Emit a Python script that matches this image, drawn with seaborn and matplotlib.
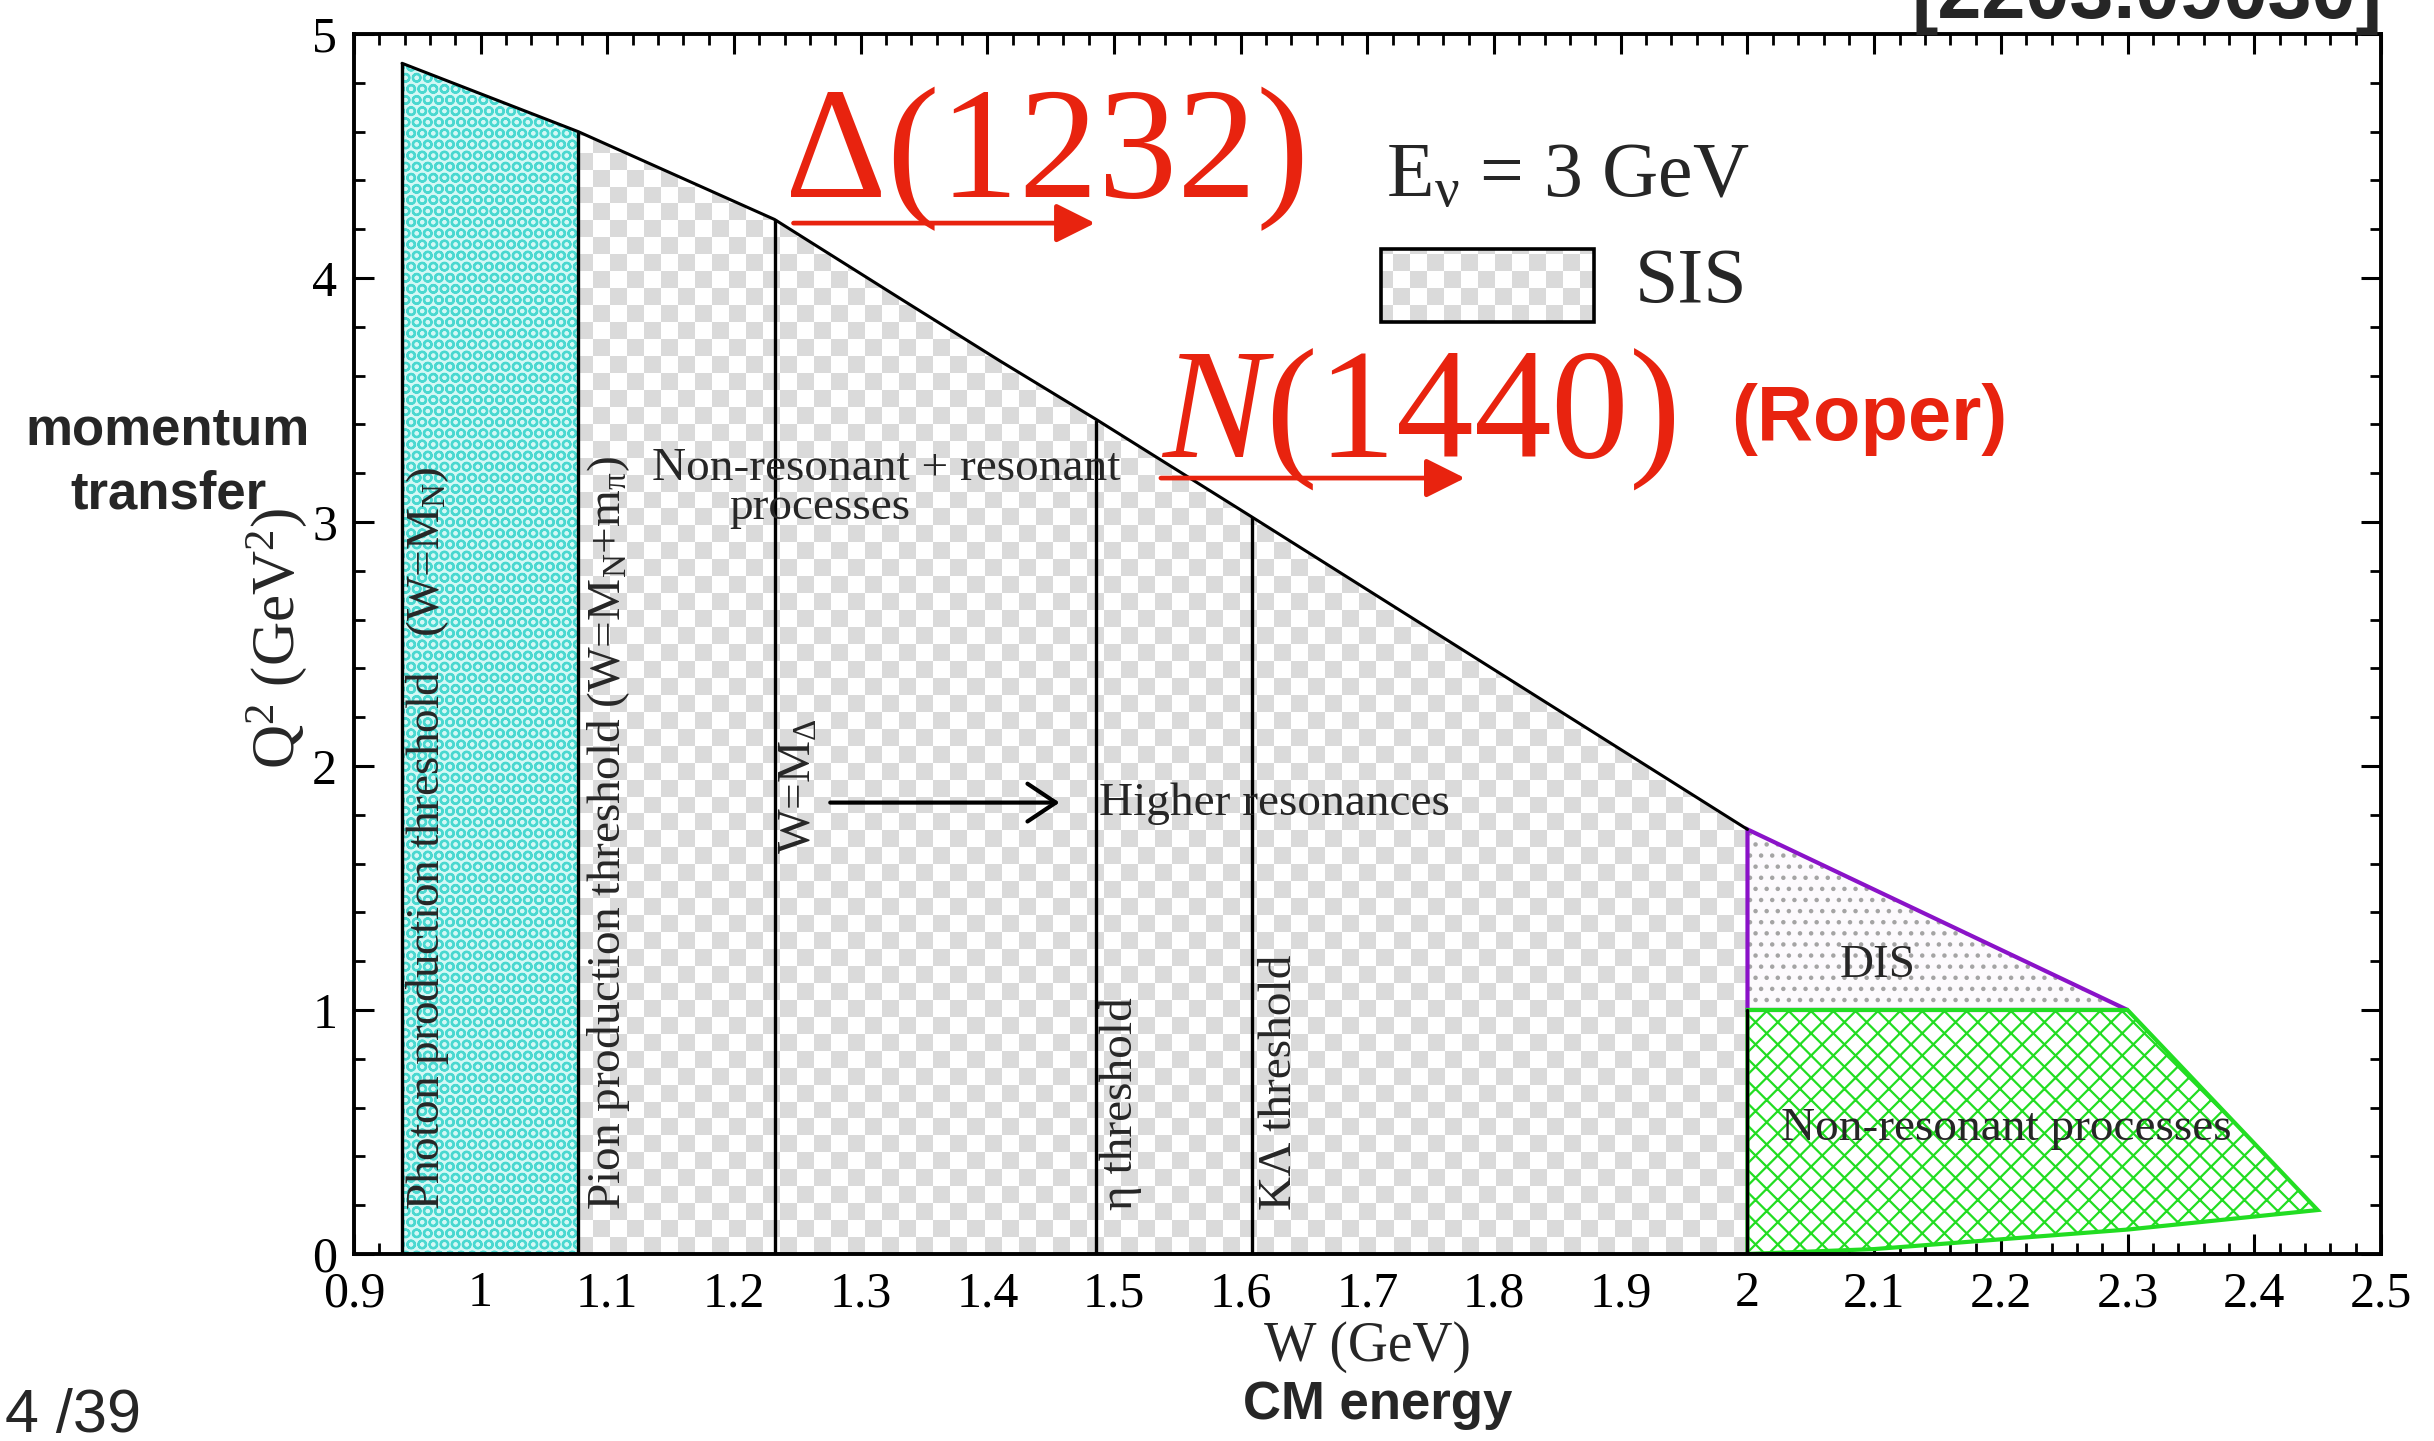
import numpy as np
import matplotlib
matplotlib.use('Agg')
import matplotlib.pyplot as plt
import seaborn as sns
from matplotlib.patches import Polygon, Rectangle
from matplotlib.colors import ListedColormap
from matplotlib.ticker import MultipleLocator, FuncFormatter

# upper kinematic limit for E_nu = 3 GeV
w_edge = [0.938, 1.077, 1.232, 1.333, 1.41, 1.486, 1.609, 2.0]
q2_edge = [4.88, 4.60, 4.24, 3.91, 3.66, 3.42, 3.02, 1.74]

# threshold lines: W position and height where they hit the limit
w_thr = [0.938, 1.077, 1.232, 1.486, 1.609]
q2_thr = [4.88, 4.60, 4.24, 3.42, 3.02]

# DIS triangle
w_dis = [2.0, 2.0, 2.3]
q2_dis = [1.0, 1.74, 1.0]

# non-resonant (green) region, outer boundary
w_nonres = [2.0, 2.0, 2.3, 2.45, 2.3, 2.2, 2.1, 2.0]
q2_nonres = [0.0, 1.0, 1.0, 0.18, 0.10, 0.06, 0.02, 0.0]

RED = '#e8230f'
PURPLE = '#8a12c8'
GREEN = '#22dd22'
CHECK_GREY = '#dadada'

sns.set_theme(style='ticks')
plt.rcParams['font.family'] = ['Liberation Serif', 'DejaVu Serif']
plt.rcParams['mathtext.fontset'] = 'custom'
plt.rcParams['mathtext.rm'] = 'Liberation Serif'
plt.rcParams['mathtext.it'] = 'Liberation Serif:italic'
plt.rcParams['mathtext.bf'] = 'Liberation Serif:bold'
plt.rcParams['mathtext.default'] = 'rm'
plt.rcParams['hatch.linewidth'] = 0.8
plt.rcParams['axes.edgecolor'] = 'black'
plt.rcParams['xtick.color'] = 'black'
plt.rcParams['ytick.color'] = 'black'

fig = plt.figure(figsize=(12.17, 7.205), dpi=200)
ax = fig.add_axes([0.1454, 0.1298, 0.8328, 0.8466])
ax.set_xlim(0.9, 2.5)
ax.set_ylim(0, 5)

# checkerboard texture for the SIS region
nx, ny = 119, 72
checker = np.indices((ny, nx)).sum(axis=0) % 2
cmap = ListedColormap(['white', CHECK_GREY])

sis_pts = [(w_thr[1], 0)] + list(zip(w_edge[1:], q2_edge[1:])) + [(w_edge[-1], 0)]
sis_poly = Polygon(sis_pts, closed=True, fc='none', ec='none')
ax.add_patch(sis_poly)
im = ax.imshow(checker, cmap=cmap, extent=(0.9, 2.5, 0, 5), aspect='auto',
               interpolation='nearest', origin='lower', zorder=1)
im.set_clip_path(sis_poly)

# photon production region (cyan)
photon_pts = [(w_thr[0], 0)] + list(zip(w_edge[:2], q2_edge[:2])) + [(w_thr[1], 0)]
ax.add_patch(Polygon(photon_pts, closed=True, fc='#d4f8f5', ec='#4ad8d0',
                     hatch='OOO', lw=0, zorder=2))

# DIS triangle
ax.add_patch(Polygon(list(zip(w_dis, q2_dis)), closed=True, fc='#fcfafd',
                     ec='#a4a4a4', hatch='...', lw=0, zorder=2))
ax.add_patch(Polygon(list(zip(w_dis, q2_dis)), closed=True, fc='none',
                     ec=PURPLE, lw=1.5, zorder=4))

# non-resonant region
nonres = list(zip(w_nonres, q2_nonres))
ax.add_patch(Polygon(nonres, closed=True, fc='white', ec=GREEN,
                     hatch='xxx', lw=0, zorder=2))
ax.add_patch(Polygon(nonres, closed=True, fc='none', ec=GREEN, lw=1.5, zorder=4))
ax.plot([w_nonres[0], w_nonres[1]], [q2_nonres[0], q2_nonres[1]], color='black',
        lw=1.2, zorder=5)

# kinematic limit and threshold lines
sns.lineplot(x=w_edge, y=q2_edge, sort=False, color='black', lw=1.1, ax=ax, zorder=5)
ax.vlines(w_thr, 0, q2_thr, color='black', lw=1.2, zorder=5)

# axis styling
ax.xaxis.set_major_locator(MultipleLocator(0.1))
ax.xaxis.set_minor_locator(MultipleLocator(0.02))
ax.yaxis.set_major_locator(MultipleLocator(1))
ax.yaxis.set_minor_locator(MultipleLocator(0.2))
ax.xaxis.set_major_formatter(FuncFormatter(lambda v, p: f'{v:g}'))
ax.yaxis.set_major_formatter(FuncFormatter(lambda v, p: f'{v:g}'))
ax.tick_params(which='both', direction='in', top=True, right=True, labelsize=18)
ax.tick_params(which='major', length=7.2, width=1.1, pad=6)
ax.tick_params(which='minor', length=4, width=1.0)
for sp in ax.spines.values():
    sp.set_visible(True)
    sp.set_linewidth(1.4)
    sp.set_zorder(6)

ax.set_xlabel('W (GeV)', fontsize=20)
ax.xaxis.set_label_coords(0.5, -0.076)
ax.xaxis.label.set_va('center')
ax.set_ylabel(r'Q$^2$ (GeV$^2$)', fontsize=22)
ax.yaxis.set_label_coords(-0.038, 0.505)
ax.yaxis.label.set_va('center')

# region labels
fs = 17
ax.text(0.958, 0.18, r'Photon production threshold   (W=M$_N$)', rotation=90,
        ha='center', va='bottom', fontsize=fs, zorder=7)
ax.text(1.101, 0.18, r'Pion production threshold (W=M$_N$+m$_\pi$)', rotation=90,
        ha='center', va='bottom', fontsize=fs, zorder=7)
ax.text(1.252, 1.64, r'W=M$_\Delta$', rotation=90, ha='center', va='bottom',
        fontsize=fs, zorder=7)
ax.text(1.505, 0.18, 'η threshold', rotation=90, ha='center', va='bottom',
        fontsize=fs, zorder=7)
ax.text(1.631, 0.18, 'KΛ threshold', rotation=90, ha='center', va='bottom',
        fontsize=fs, zorder=7)
ax.text(1.135, 3.22, 'Non-resonant + resonant', ha='left', va='center', fontsize=fs, zorder=7)
ax.text(1.196, 3.06, 'processes', ha='left', va='center', fontsize=fs, zorder=7)
ax.text(1.488, 1.845, 'Higher resonances', ha='left', va='center', fontsize=fs, zorder=7)
ax.text(2.103, 1.18, 'DIS', ha='center', va='center', fontsize=fs, zorder=7)
ax.text(2.204, 0.515, 'Non-resonant processes', ha='center', va='center', fontsize=fs, zorder=7)
ax.annotate('', xy=(1.457, 1.85), xytext=(1.276, 1.85),
            arrowprops=dict(arrowstyle='->,head_length=0.3,head_width=0.2',
                            color='black', lw=1.5, mutation_scale=34,
                            shrinkA=0, shrinkB=0), zorder=7)

# legend block
ax.text(1.715, 4.33, r'E$_\nu$ = 3 GeV', ha='left', va='baseline', fontsize=28, zorder=7)
leg_box = Rectangle((1.711, 3.82), 0.168, 0.30, fc='none', ec='none')
ax.add_patch(leg_box)
im2 = ax.imshow(checker, cmap=cmap, extent=(0.9, 2.5, 0, 5), aspect='auto',
                interpolation='nearest', origin='lower', zorder=3)
im2.set_clip_path(leg_box)
ax.add_patch(Rectangle((1.711, 3.82), 0.168, 0.30, fc='none', ec='black', lw=1.3, zorder=4))
ax.text(1.911, 3.98, 'SIS', ha='left', va='center', fontsize=28, zorder=7)

# red resonance annotations
ax.text(1.240, 4.33, 'Δ(1232)', color=RED, ha='left', va='baseline', fontsize=57, zorder=8)
ax.annotate('', xy=(1.485, 4.225), xytext=(1.247, 4.225),
            arrowprops=dict(arrowstyle='-|>,head_length=0.4,head_width=0.2',
                            color=RED, lw=1.7, mutation_scale=30,
                            shrinkA=0, shrinkB=0), zorder=8)
ax.text(1.537, 3.27, r'$\mathit{N}$(1440)', color=RED, ha='left', va='baseline',
        fontsize=56, zorder=8)
ax.annotate('', xy=(1.777, 3.18), xytext=(1.537, 3.18),
            arrowprops=dict(arrowstyle='-|>,head_length=0.4,head_width=0.2',
                            color=RED, lw=1.7, mutation_scale=30,
                            shrinkA=0, shrinkB=0), zorder=8)
ax.text(1.987, 3.42, '(Roper)', color=RED, ha='left', va='center', fontsize=28,
        fontweight='bold', family=['Liberation Sans', 'DejaVu Sans'], zorder=8)

# slide annotations around the plot
sans = ['Liberation Sans', 'DejaVu Sans']
fig.text(0.979, 0.9875, '[2203.09030]', ha='right', va='baseline', fontsize=28.5,
         fontweight='bold', family=sans)
fig.text(0.069, 0.679, 'momentum\ntransfer', ha='center', va='center', fontsize=19,
         fontweight='bold', family=sans, linespacing=1.35)
fig.text(0.566, 0.025, 'CM energy', ha='center', va='center', fontsize=19,
         fontweight='bold', family=sans)
fig.text(0.002, 0.0173, '4 /39', ha='left', va='center', fontsize=22, family=sans)

fig.savefig('out.png', dpi=200)
